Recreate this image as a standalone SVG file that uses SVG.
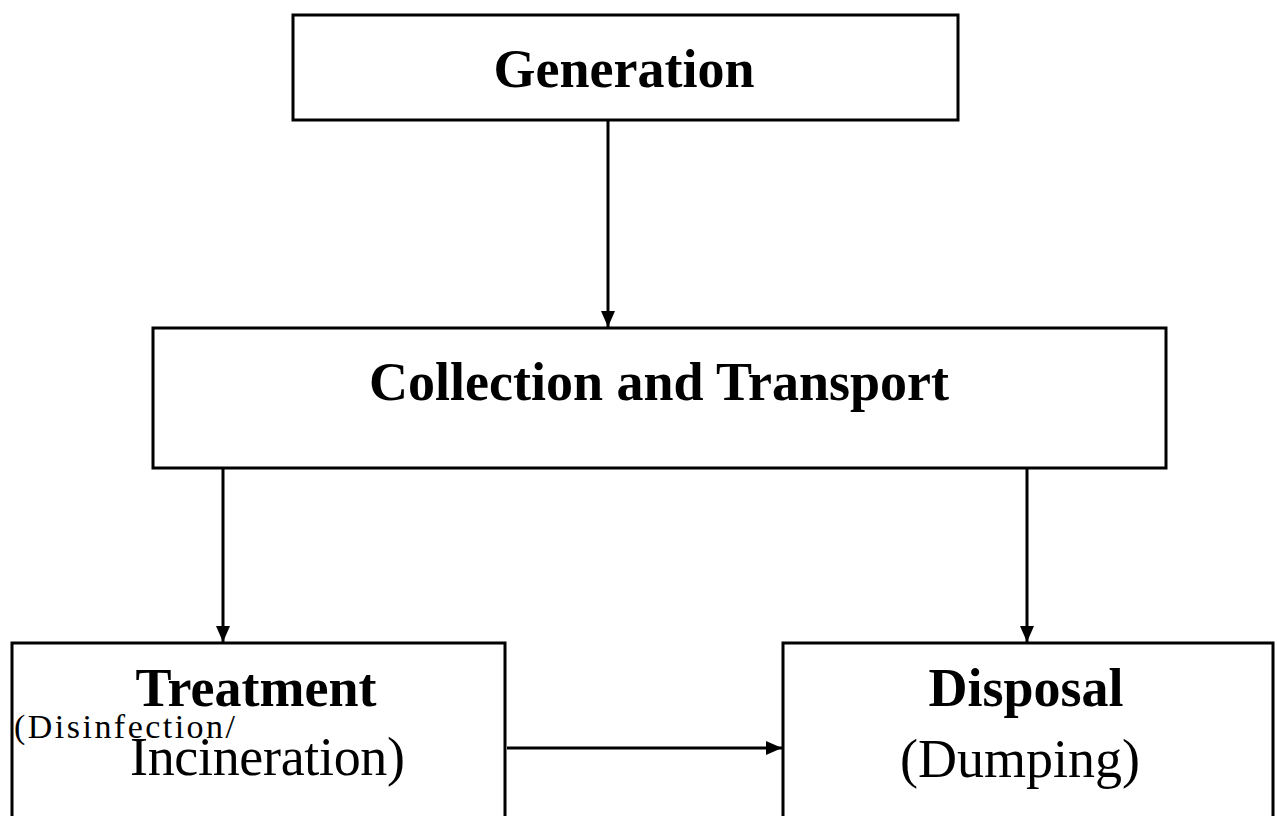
<svg xmlns="http://www.w3.org/2000/svg" width="1277" height="816" viewBox="0 0 1277 816">
<style>
.box{fill:#fff;stroke:#000;stroke-width:3}
.b{font-family:"Liberation Serif","Times New Roman",serif;font-weight:bold;font-size:54px;fill:#000}
.r{font-family:"Liberation Serif","Times New Roman",serif;font-size:54px;fill:#000}
.c{stroke:#000;stroke-width:3;fill:none}
</style>
<defs>
<marker id="ah" markerWidth="16" markerHeight="14" refX="10" refY="5" orient="auto" markerUnits="userSpaceOnUse" viewBox="0 0 10 10" preserveAspectRatio="none">
<path d="M0,0 L10,5 L0,10 z" fill="#000"/>
</marker>
</defs>
<rect width="1277" height="816" fill="#fff"/>
<g id="generation">
<rect class="box" x="293" y="15" width="665" height="105"/>
<text class="b" x="624" y="87" text-anchor="middle">Generation</text>
</g>
<g id="collection">
<rect class="box" x="153" y="328" width="1013" height="140"/>
<text class="b" x="659" y="400" text-anchor="middle">Collection and Transport</text>
</g>
<g id="treatment">
<rect class="box" x="12" y="643" width="493" height="180"/>
<text class="b" x="256" y="706" text-anchor="middle">Treatment</text>
<text class="r" x="14" y="738" style="font-size:34px" textLength="221">(Disinfection/</text>
<text class="r" x="130" y="775" textLength="275">Incineration)</text>
</g>
<g id="disposal">
<rect class="box" x="783" y="643" width="490" height="180"/>
<text class="b" x="1026" y="706" text-anchor="middle">Disposal</text>
<text class="r" x="1020" y="777" text-anchor="middle">(Dumping)</text>
</g>
<g id="connectors">
<line class="c" x1="608" y1="120" x2="608" y2="327" marker-end="url(#ah)"/>
<line class="c" x1="223" y1="468" x2="223" y2="642" marker-end="url(#ah)"/>
<line class="c" x1="1027" y1="468" x2="1027" y2="642" marker-end="url(#ah)"/>
<line class="c" x1="507" y1="748" x2="782" y2="748" marker-end="url(#ah)"/>
</g>
</svg>
